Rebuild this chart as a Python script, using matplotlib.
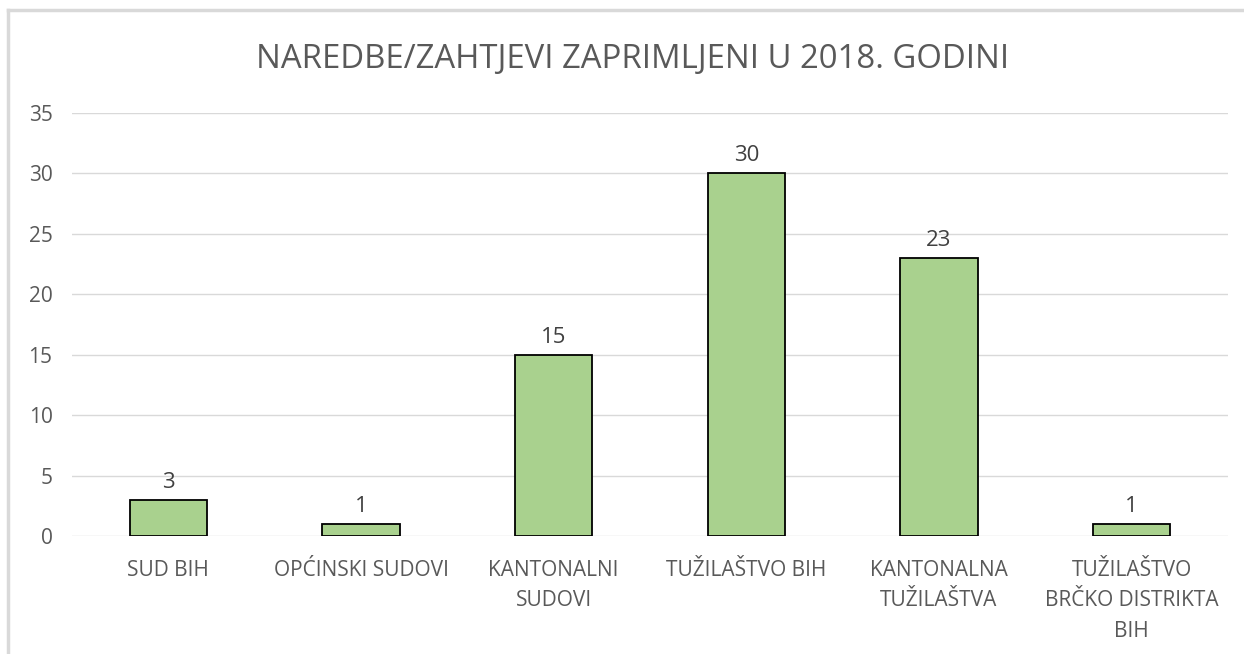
import matplotlib
matplotlib.use("Agg")
import matplotlib.pyplot as plt
from matplotlib.lines import Line2D

# ------------------------------
# DATA
# ------------------------------
categories = [
    "SUD BIH",
    "OPĆINSKI SUDOVI",
    "KANTONALNI\nSUDOVI",
    "TUŽILAŠTVO BIH",
    "KANTONALNA\nTUŽILAŠTVA",
    "TUŽILAŠTVO\nBRČKO DISTRIKTA\nBIH",
]
values = [3, 1, 15, 30, 23, 1]
y_ticks = [0, 5, 10, 15, 20, 25, 30, 35]
title = "NAREDBE/ZAHTJEVI ZAPRIMLJENI U 2018. GODINI"

# ------------------------------
# STYLE
# ------------------------------
BAR_COLOR = "#A9D18E"
TEXT_COLOR = "#595959"
GRID_COLOR = "#D9D9D9"
plt.rcParams["font.family"] = ["Open Sans", "DejaVu Sans"]

fig = plt.figure(figsize=(12.44, 6.54), dpi=100)
ax = fig.add_axes([72 / 1244, 1 - 536 / 654, 1156 / 1244, 423 / 654])

x = list(range(len(categories)))
bars = ax.bar(x, values, width=0.4, color=BAR_COLOR, edgecolor="black", linewidth=1.3, zorder=3)

# value labels above bars
for b, v in zip(bars, values):
    ax.annotate(str(v), (b.get_x() + b.get_width() / 2, v), xytext=(0, 5),
                textcoords="offset points", ha="center", va="bottom",
                fontsize=16, color="#404040")

ax.set_xlim(-0.5, len(categories) - 0.5)
ax.set_ylim(0, 35)
ax.set_yticks(y_ticks)
ax.set_xticks(x)
ax.set_xticklabels(categories, fontsize=15, color=TEXT_COLOR, linespacing=1.6, va="top")
ax.tick_params(axis="y", labelsize=15, labelcolor=TEXT_COLOR, length=0, pad=14)
ax.tick_params(axis="x", length=0, pad=17)
ax.grid(axis="y", color=GRID_COLOR, linewidth=1, zorder=0)
for s in ax.spines.values():
    s.set_visible(False)

fig.text(633 / 1244, 1 - 60 / 654, title, ha="center", va="center", fontsize=23.7, color=TEXT_COLOR)

# chart border (top and left visible)
fig.add_artist(Line2D([8 / 1244, 1], [1 - 10 / 654] * 2, color=GRID_COLOR, linewidth=2.5, transform=fig.transFigure))
fig.add_artist(Line2D([8 / 1244] * 2, [0, 1 - 10 / 654], color=GRID_COLOR, linewidth=2.5, transform=fig.transFigure))

fig.savefig("out.png", dpi=100)
